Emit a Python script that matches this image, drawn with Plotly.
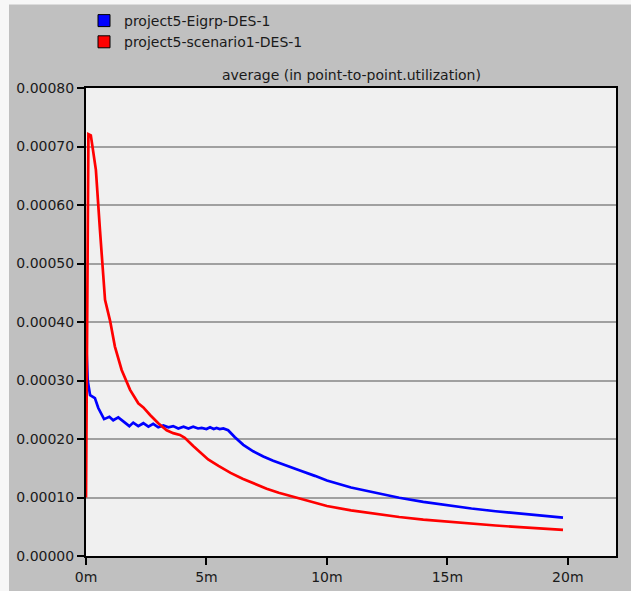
import plotly.graph_objects as go

# Simulation time in minutes and average point-to-point utilization
eigrp_time = [0, 0.07, 0.17, 0.37, 0.51, 0.75, 0.97, 1.13, 1.34, 1.55, 1.80, 1.96,
              2.17, 2.38, 2.59, 2.79, 3.00, 3.21, 3.42, 3.62, 3.83, 4.05, 4.25, 4.45,
              4.65, 4.80, 5.00, 5.15, 5.30, 5.42, 5.55, 5.70, 5.90, 6.18, 6.53, 6.94,
              7.36, 7.77, 8.2, 8.88, 9.5, 10, 11, 12, 13, 14, 15, 16, 17, 18, 19, 19.8]
eigrp_util = [0.000375, 0.000300, 0.000275, 0.000270, 0.000253, 0.000234, 0.000238,
              0.000232, 0.000237, 0.000230, 0.000222, 0.000228, 0.000222, 0.000227,
              0.000221, 0.000226, 0.000220, 0.000223, 0.000220, 0.000222, 0.000218,
              0.000221, 0.000218, 0.000221, 0.000218, 0.000219, 0.000217, 0.000220,
              0.000217, 0.000219, 0.000217, 0.000218, 0.000215, 0.000203, 0.000190,
              0.000179, 0.000170, 0.000163, 0.000156, 0.000146, 0.000137, 0.000129,
              0.000117, 0.000108, 0.0000995, 0.0000925, 0.0000865, 0.0000812,
              0.0000765, 0.0000723, 0.0000685, 0.0000656]

scen_time = [0, 0.1, 0.2, 0.41, 0.58, 0.72, 0.79, 1.0, 1.2, 1.48, 1.83, 2.17, 2.38,
             2.66, 3.0, 3.35, 3.62, 3.9, 4.1, 4.45, 4.87, 5.07, 5.5, 6, 6.5, 7, 7.5,
             8, 9, 10, 11, 12, 13, 14, 15, 16, 17, 18, 19, 19.8]
scen_util = [0.000100, 0.000721, 0.000719, 0.000660, 0.000557, 0.000472, 0.000438,
             0.000402, 0.000358, 0.000318, 0.000284, 0.000261, 0.000254, 0.000241,
             0.000227, 0.000215, 0.000210, 0.000207, 0.000202, 0.000188, 0.000173,
             0.000165, 0.000154, 0.000142, 0.000132, 0.000123, 0.000115, 0.000108,
             0.0000965, 0.0000855, 0.0000780, 0.0000720, 0.0000667, 0.0000622,
             0.0000585, 0.0000551, 0.0000521, 0.0000493, 0.0000468, 0.0000447]

series_names = ["project5-Eigrp-DES-1", "project5-scenario1-DES-1"]
series_colors = ["#0000ff", "#ff0000"]

x_ticks = [0, 5, 10, 15, 20]
x_labels = ["0m", "5m", "10m", "15m", "20m"]
y_ticks = [0, 0.0001, 0.0002, 0.0003, 0.0004, 0.0005, 0.0006, 0.0007, 0.0008]

title_text = "average (in point-to-point.utilization)"

FONT = "DejaVu Sans"
W, H = 631, 591
ML, MR, MT, MB = 86, 15, 88, 35
PW, PH = W - ML - MR, H - MT - MB

fig = go.Figure()

for t, v, c in [(eigrp_time, eigrp_util, series_colors[0]),
                (scen_time, scen_util, series_colors[1])]:
    fig.add_trace(go.Scatter(x=t, y=v, mode="lines", showlegend=False,
                             line=dict(color=c, width=2.7)))

# legend entries shown as coloured squares
for name, c in zip(series_names, series_colors):
    fig.add_trace(go.Scatter(x=[None], y=[None], mode="markers", name=name,
                             marker=dict(symbol="square", size=12, color=c,
                                         line=dict(color="#000000", width=1))))


def px_x(x):
    return (x - ML) / PW


def px_y(y):
    return (H - MB - y) / PH


shapes = [
    # light strips along the top and left edge
    dict(type="rect", xref="paper", yref="paper", x0=px_x(0), x1=px_x(W),
         y0=px_y(4.5), y1=px_y(0), fillcolor="#f7f7f7", line_width=0, layer="below"),
    dict(type="rect", xref="paper", yref="paper", x0=px_x(0), x1=px_x(9),
         y0=px_y(H), y1=px_y(0), fillcolor="#f7f7f7", line_width=0, layer="below"),
]

fig.update_layout(
    template="none",
    width=W, height=H,
    margin=dict(l=ML, r=MR, t=MT, b=MB, pad=0, autoexpand=False),
    paper_bgcolor="#c0c0c0",
    plot_bgcolor="#f0f0f0",
    font=dict(family=FONT, size=14, color="#1a1a1a"),
    shapes=shapes,
    showlegend=True,
    legend=dict(x=px_x(84), y=px_y(5), xanchor="left", yanchor="top",
                bgcolor="rgba(0,0,0,0)", borderwidth=0,
                font=dict(family=FONT, size=14, color="#1a1a1a"),
                tracegroupgap=0, itemclick=False),
    annotations=[dict(text=title_text, xref="paper", yref="paper",
                      x=0.5, y=px_y(75), xanchor="center", yanchor="middle",
                      showarrow=False, font=dict(family=FONT, size=14, color="#1a1a1a"))],
    xaxis=dict(range=[0, 22], tickvals=x_ticks, ticktext=x_labels,
               showgrid=False, zeroline=False, showline=True, mirror=True,
               linecolor="#000000", linewidth=2, ticks="outside", ticklen=7,
               tickwidth=1.5, tickcolor="#000000", fixedrange=True),
    yaxis=dict(range=[0, 0.0008], tickvals=y_ticks, tickformat=".5f",
               showgrid=True, gridcolor="#a0a0a0", gridwidth=2, zeroline=False,
               showline=True, mirror=True, linecolor="#000000", linewidth=2,
               ticks="outside", ticklen=7, tickwidth=1.5, tickcolor="#000000",
               fixedrange=True),
)

fig.write_html("out.html")
